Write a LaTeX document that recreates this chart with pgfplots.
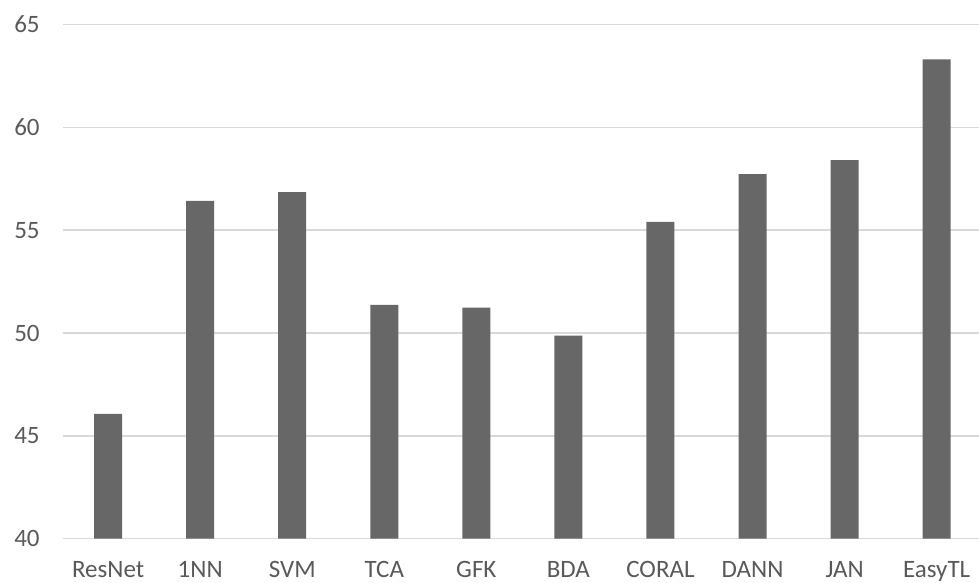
\documentclass[border=0pt]{standalone}
\usepackage{fontspec}
\setmainfont{Carlito}
\usepackage{pgfplots}
\pgfplotsset{compat=1.18}

\definecolor{barfill}{RGB}{103,103,103}
\definecolor{gridgray}{RGB}{217,217,217}
\definecolor{labelgray}{RGB}{89,89,89}

\begin{document}
\begin{tikzpicture}
\begin{axis}[
  scale only axis,
  width=458pt, height=257.1pt,
  xmin=-0.49, xmax=9.46,
  ymin=40, ymax=65,
  ytick={40,45,...,65},
  xtick={0,...,9},
  xticklabels={ResNet,1NN,SVM,TCA,GFK,BDA,CORAL,DANN,JAN,EasyTL},
  axis line style={draw=none},
  major tick length=0pt,
  ymajorgrids,
  grid style={gridgray, line width=0.7pt},
  /pgf/number format/assume math mode=true,
  ticklabel style={font=\fontsize{12.5}{15}\selectfont, text=labelgray, inner sep=0pt},
  yticklabel style={anchor=east, xshift=-11.5pt},
  xticklabel style={anchor=base, yshift=-19.2pt},
  ybar, bar width=14pt,
]
\addplot[draw=none, fill=barfill] coordinates {
  (0,46.07) (1,56.42) (2,56.85) (3,51.37) (4,51.24)
  (5,49.87) (6,55.40) (7,57.72) (8,58.40) (9,63.30)
};
\end{axis}
\pgfresetboundingbox
\path[use as bounding box]
  ([xshift=-31.5pt,yshift=-22.15pt]current axis.south west)
  rectangle ([yshift=12.25pt]current axis.north east);
\end{tikzpicture}
\end{document}
